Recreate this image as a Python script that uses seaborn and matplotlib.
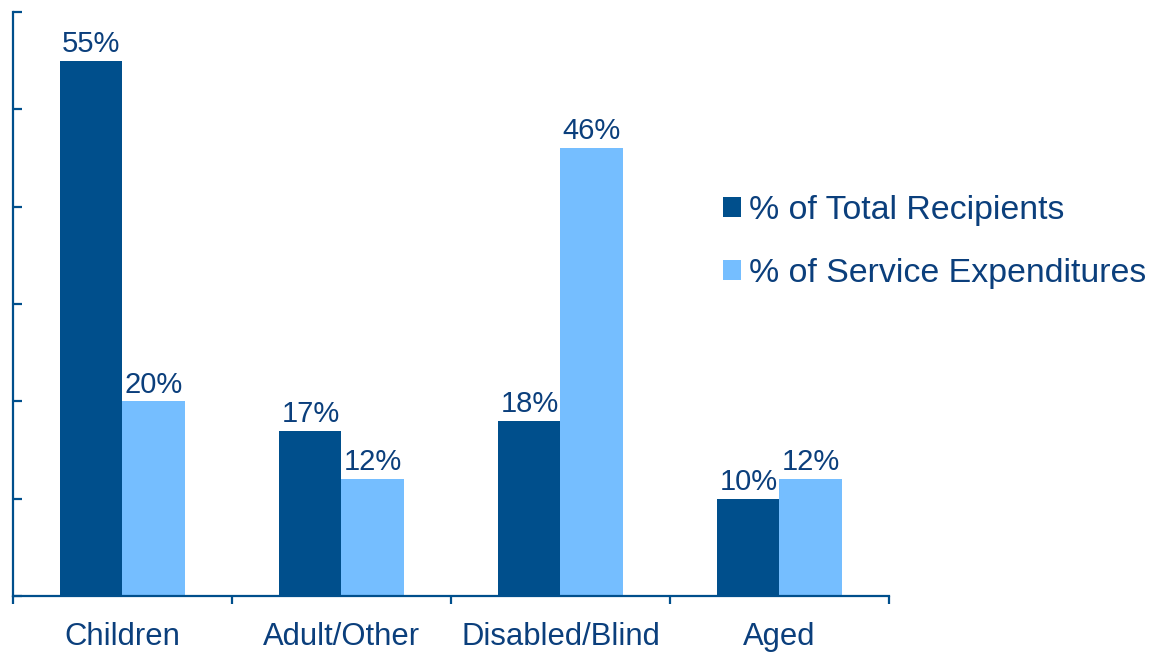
import matplotlib
matplotlib.use("Agg")
import matplotlib.pyplot as plt
import seaborn as sns
import pandas as pd
from matplotlib.patches import Patch

categories = ["Children", "Adult/Other", "Disabled/Blind", "Aged"]
recipients = [55, 17, 18, 10]
expenditures = [20, 12, 46, 12]
series_names = ["% of Total Recipients", "% of Service Expenditures"]

dark = "#004F8C"
light = "#75BEFF"
text_color = "#0B3F7C"

df = pd.DataFrame({
    "category": categories * 2,
    "series": [series_names[0]] * 4 + [series_names[1]] * 4,
    "value": recipients + expenditures,
})

sns.set_theme(style="white")
plt.rcParams["font.family"] = ["Liberation Sans", "DejaVu Sans"]

fig = plt.figure(figsize=(11.5, 6.52), dpi=100)
ax = fig.add_axes([0.0113, 0.0859, 0.7617, 0.8957])

sns.barplot(data=df, x="category", y="value", hue="series", order=categories,
            hue_order=series_names, palette=[dark, light], width=0.567,
            saturation=1, ax=ax, legend=False, linewidth=0)

for cont in ax.containers:
    ax.bar_label(cont, labels=[f"{v:.0f}%" for v in cont.datavalues],
                 padding=2, fontsize=21, color=text_color)

ax.set_ylim(0, 60)
ax.set_xlim(-0.5, 3.5)
ax.set_yticks(range(0, 61, 10))
ax.set_yticklabels([])
ax.set_xlabel("")
ax.set_ylabel("")

for side in ["top", "right"]:
    ax.spines[side].set_visible(False)
for side in ["left", "bottom"]:
    ax.spines[side].set_color(dark)
    ax.spines[side].set_linewidth(1.6)

ax.tick_params(axis="y", direction="in", length=6.5, width=1.6, color=dark, left=True)
ax.set_xticks([-0.5, 0.5, 1.5, 2.5, 3.5], minor=True)
ax.tick_params(axis="x", which="minor", direction="out", length=6, width=1.6,
               color=dark, bottom=True)
ax.tick_params(axis="x", which="major", length=0, pad=19, labelsize=22.3,
               labelcolor=text_color)

handles = [Patch(facecolor=dark, edgecolor="none"), Patch(facecolor=light, edgecolor="none")]
fig.legend(handles, series_names, loc="center left", bbox_to_anchor=(0.602, 0.629),
           frameon=False, fontsize=24.4, labelcolor=text_color,
           handlelength=0.55, handleheight=0.55, handletextpad=0.22,
           labelspacing=0.95)

fig.savefig("out.png", dpi=100)
